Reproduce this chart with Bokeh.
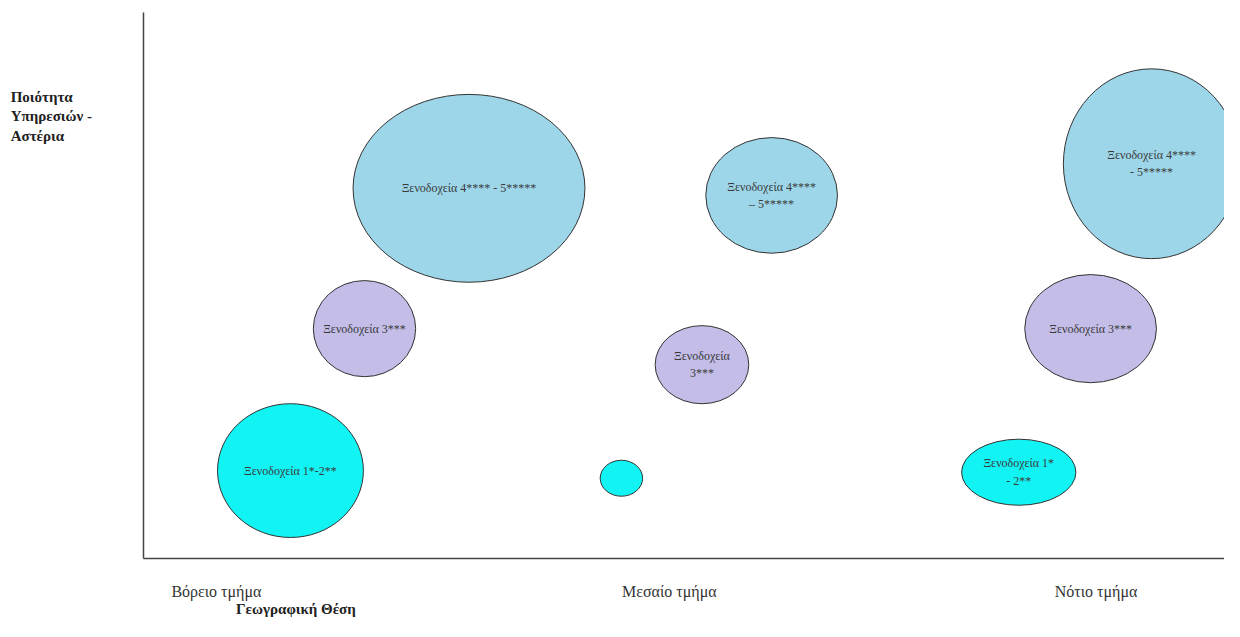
from bokeh.plotting import figure
from bokeh.models import Range1d, FixedTicker, Label, ColumnDataSource
from bokeh.core.properties import value
from bokeh.embed import file_html
from bokeh.resources import INLINE

# ---- data ----
hotel_class = ["4-5", "4-5", "4-5", "3", "3", "3", "1-2", "1-2", "1-2"]
region_pos = [29.9, 57.7, 92.6, 20.3, 51.3, 87.0, 13.5, 43.9, 80.4]
quality_pos = [67.8, 66.5, 72.3, 42.1, 35.5, 42.1, 16.1, 14.7, 15.8]
bubble_w = [21.3, 12.1, 16.2, 9.4, 8.6, 12.1, 13.4, 3.9, 10.5]
bubble_h = [34.4, 21.2, 34.8, 17.6, 14.3, 19.8, 24.5, 6.6, 12.1]
bubble_text = [
    "Ξενοδοχεία 4**** - 5*****",
    "Ξενοδοχεία 4****\n– 5*****",
    "Ξενοδοχεία 4****\n- 5*****",
    "Ξενοδοχεία 3***",
    "Ξενοδοχεία\n3***",
    "Ξενοδοχεία 3***",
    "Ξενοδοχεία 1*-2**",
    "",
    "Ξενοδοχεία 1*\n- 2**",
]
region_ticks = [6.7, 48.3, 87.5]
region_labels = ["Βόρειο τμήμα", "Μεσαίο τμήμα", "Νότιο τμήμα"]
y_title = "Ποιότητα\nΥπηρεσιών -\nΑστέρια"
x_title = "Γεωγραφική Θέση"

class_colors = {"4-5": "#9dd6e9", "3": "#c3bde8", "1-2": "#12f4f4"}
fills = [class_colors[c] for c in hotel_class]

src = ColumnDataSource(dict(x=region_pos, y=quality_pos, w=bubble_w, h=bubble_h,
                            t=bubble_text, c=fills))

SERIF = "Liberation Serif"

p = figure(width=1224, height=621, x_range=Range1d(0, 99.3), y_range=Range1d(0, 100),
           output_backend="svg", toolbar_location=None,
           min_border_left=143, min_border_right=0, min_border_top=12, min_border_bottom=63)
p.outline_line_color = None
p.xgrid.visible = False
p.ygrid.visible = False
p.background_fill_color = "white"

p.ellipse(x="x", y="y", width="w", height="h", source=src, fill_color="c",
          line_color="#333333", line_width=1)
p.text(x="x", y="y", text="t", source=src, text_align="center", text_baseline="middle",
       text_font=value(SERIF), text_font_size="12px", text_color="#3a3a3a",
       text_line_height=1.25)

# x axis
xa = p.xaxis[0]
xa.ticker = FixedTicker(ticks=region_ticks)
xa.major_label_overrides = {t: l for t, l in zip(region_ticks, region_labels)}
xa.major_tick_line_color = None
xa.minor_tick_line_color = None
xa.axis_line_color = "#444444"
xa.axis_line_width = 1.5
xa.major_label_standoff = 18
xa.major_label_text_font = SERIF
xa.major_label_text_font_size = "16px"
xa.major_label_text_color = "#333333"

# y axis
ya = p.yaxis[0]
ya.ticker = FixedTicker(ticks=[])
ya.major_tick_line_color = None
ya.minor_tick_line_color = None
ya.major_label_text_font_size = "0px"
ya.axis_line_color = "#444444"
ya.axis_line_width = 1.5

p.add_layout(Label(x=-12.2, y=85.95, text=y_title, text_align="left", text_baseline="top",
                   text_font=SERIF, text_font_size="15px", text_font_style="bold",
                   text_color="#222222", text_line_height=1.2), "left")
p.add_layout(Label(x=14.0, y=-9.2, text=x_title, text_align="center", text_baseline="middle",
                   text_font=SERIF, text_font_size="15px", text_font_style="bold",
                   text_color="#222222"), "below")

open("out.html", "w").write(file_html(p, INLINE))
